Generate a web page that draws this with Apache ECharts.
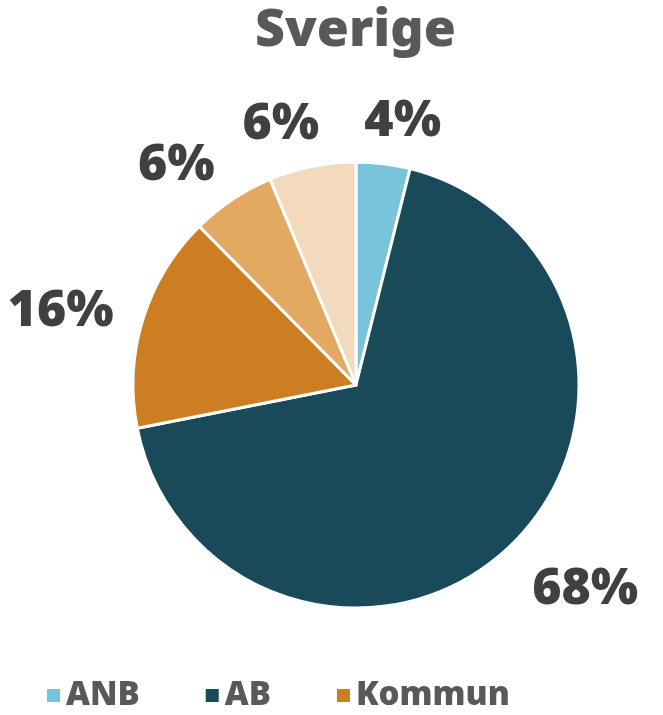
<!DOCTYPE html>
<html>
<head>
<meta charset="utf-8">
<script src="https://cdn.jsdelivr.net/npm/echarts@6/dist/echarts.min.js"></script>
<style>
    html, body { margin: 0; padding: 0; background: #fff; }
    #chart { width: 663px; height: 715px; }
</style>
</head>
<body>
<div id="chart"></div>
<script>
    // kategorier och andelar (%)
    let categories = ['ANB', 'AB', 'Kommun', 'Region', 'Övrigt'];
    let shares = [3.9, 68.0, 15.7, 6.1, 6.3];
    let colors = ['#78C4DB', '#1A4A5A', '#CD7E22', '#E3A862', '#F4DABD'];
    // bara de tre första syns i förklaringen
    let legendItems = ['ANB', 'AB', 'Kommun'];

    let fontName = 'Noto Sans';
    let labelSize = 50;

    let mChart = echarts.init(document.getElementById('chart'));

    let pieData = categories.map(function (name, i) {
        return { name: name, value: shares[i], itemStyle: { color: colors[i] } };
    });

    function clamp(v, a, b) {
        return Math.max(a, Math.min(b, v));
    }

    let options = {
        title: {
            text: 'Sverige',
            left: 250,
            top: 0,
            textStyle: {
                fontFamily: fontName,
                fontWeight: 900,
                fontSize: 52,
                color: '#595959'
            }
        },
        legend: {
            data: legendItems,
            icon: 'rect',
            itemWidth: 15,
            itemHeight: 15,
            itemGap: 64,
            left: 40,
            top: 674,
            textStyle: {
                fontFamily: fontName,
                fontWeight: 900,
                fontSize: 33,
                color: '#595959'
            }
        },
        series: [
            {
                type: 'pie',
                center: [356, 385],
                radius: 223,
                startAngle: 90,
                clockwise: true,
                avoidLabelOverlap: false,
                data: pieData,
                itemStyle: {
                    borderColor: '#fff',
                    borderWidth: 3
                },
                label: {
                    show: true,
                    position: 'outside',
                    formatter: function (p) {
                        return Math.round(p.percent) + '%';
                    },
                    fontFamily: fontName,
                    fontWeight: 900,
                    fontSize: labelSize,
                    color: '#404040'
                },
                // linjen behövs bara för riktningen, syns inte
                labelLine: {
                    show: true,
                    length: 20,
                    length2: 0,
                    lineStyle: { opacity: 0 }
                },
                // etiketten läggs utanför kanten ungefär som i Excel
                labelLayout: function (p) {
                    let pts = p.labelLinePoints;
                    if (!pts) return {};
                    let dx = pts[1][0] - pts[0][0];
                    let dy = pts[1][1] - pts[0][1];
                    let len = Math.sqrt(dx * dx + dy * dy) || 1;
                    dx /= len; dy /= len;
                    let px = pts[0][0] + dx * 25;
                    let py = pts[0][1] + dy * 25;
                    let hw = p.labelRect.width / 2;
                    let hh = labelSize * 0.36;
                    return {
                        x: px + clamp(dx * 3.5, -1.1, 1.1) * hw,
                        y: py + dy * 1.35 * hh + 7,
                        align: 'center',
                        verticalAlign: 'middle'
                    };
                },
                emphasis: { disabled: true }
            }
        ]
    };
    mChart.setOption(options);
</script>
</body>
</html>
